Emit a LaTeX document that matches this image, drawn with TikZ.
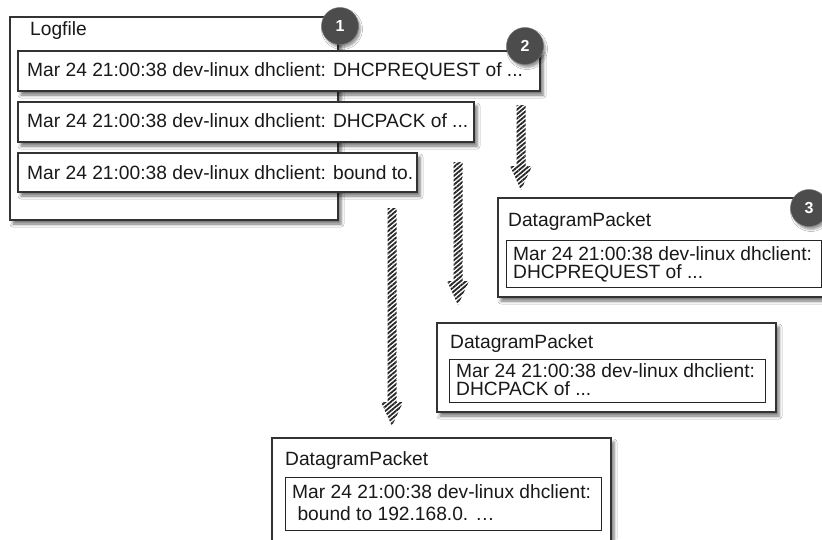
\documentclass[tikz,border=0pt]{standalone}
\usepackage{fontspec}
\setmainfont{Liberation Sans}
\usetikzlibrary{shadows.blur,patterns.meta,calc}
\newcommand\hatchArrow[2]{%
  \fill[hatch] ($(#1)+(-4.5,0)$) -- ($(#2)+(-4.5,-24)$) -- ($(#2)+(-11,-24)$) -- (#2)
    -- ($(#2)+(11,-24)$) -- ($(#2)+(4.5,-24)$) -- ($(#1)+(4.5,0)$) -- cycle;}
\tikzset{
  box/.style={draw=black!80, line width=1.2pt, fill=white, inner sep=0pt, outer sep=0pt,
    anchor=north west,
    blur shadow={shadow xshift=3pt, shadow yshift=-4pt, shadow blur radius=3pt, shadow opacity=55}},
  inbox/.style={draw=black!85, line width=1pt, fill=white, inner sep=0pt, outer sep=0pt, anchor=north west},
  txt/.style={anchor=base west, inner sep=0pt, font=\fontsize{19.2}{22}\selectfont, text=black!90},
  numcirc/.style={circle, fill=black!70, draw=black!55, line width=0.5pt, minimum size=37pt, inner sep=0pt,
    text=white, font=\bfseries\fontsize{16}{16}\selectfont,
    blur shadow={shadow xshift=2pt, shadow yshift=-3pt, shadow blur radius=2pt, shadow opacity=40}},
  hatch/.style={pattern={Lines[angle=40,distance=3.4pt,line width=1.8pt]}, pattern color=black!85}
}
\begin{document}
\begin{tikzpicture}[x=1pt,y=-1pt]
\useasboundingbox (0,0) rectangle (822,539);
\fill[white] (0,0) rectangle (822,539);

% Logfile
\node[box, minimum width=328pt, minimum height=203pt] (log) at (10,17) {};
\node[txt] (logt) at (30,35) {Logfile};
\node[numcirc] (c1) at (340,26) {1};

\node[box, minimum width=522pt, minimum height=40pt] (r1) at (18,51) {};
\node[txt] (r1t) at (27,76) {Mar 24 21:00:38 dev-linux dhclient: DHCPREQUEST of ...};
\node[numcirc] (c2) at (525,46) {2};

\node[box, minimum width=456pt, minimum height=40pt] (r2) at (18,102) {};
\node[txt] (r2t) at (27,127) {Mar 24 21:00:38 dev-linux dhclient: DHCPACK of ...};

\node[box, minimum width=399pt, minimum height=39pt] (r3) at (18,153) {};
\node[txt] (r3t) at (27,179) {Mar 24 21:00:38 dev-linux dhclient: bound to.};

% arrows
\coordinate (aS) at (521,105); \coordinate (aE) at (521,190);
\coordinate (bS) at (458,162); \coordinate (bE) at (458,305);
\coordinate (cS) at (392,208); \coordinate (cE) at (392,426);
\hatchArrow{aS}{aE}
\hatchArrow{bS}{bE}
\hatchArrow{cS}{cE}

% Datagram 1
\node[box, minimum width=328pt, minimum height=99pt] (d1) at (498,198) {};
\node[txt] (d1t) at (508,226) {DatagramPacket};
\node[inbox, minimum width=315pt, minimum height=47pt] (d1i) at (506,240) {};
\node[txt] (d1a) at (513,260) {Mar 24 21:00:38 dev-linux dhclient:};
\node[txt] (d1b) at (513,278) {DHCPREQUEST of ...};
\node[numcirc] (c3) at (809,208) {3};

% Datagram 2
\node[box, minimum width=339pt, minimum height=89pt] (d2) at (437,323) {};
\node[txt] (d2t) at (450,348) {DatagramPacket};
\node[inbox, minimum width=316pt, minimum height=43pt] (d2i) at (449,359) {};
\node[txt] (d2a) at (456,377) {Mar 24 21:00:38 dev-linux dhclient:};
\node[txt] (d2b) at (456,395) {DHCPACK of ...};

% Datagram 3
\node[box, minimum width=339pt, minimum height=110pt] (d3) at (272,438) {};
\node[txt] (d3t) at (285,465) {DatagramPacket};
\node[inbox, minimum width=316pt, minimum height=53pt] (d3i) at (285,477) {};
\node[txt] (d3a) at (292,498) {Mar 24 21:00:38 dev-linux dhclient:};
\node[txt] (d3b) at (292,520) {\ bound to 192.168.0. \dots};
\end{tikzpicture}
\end{document}
